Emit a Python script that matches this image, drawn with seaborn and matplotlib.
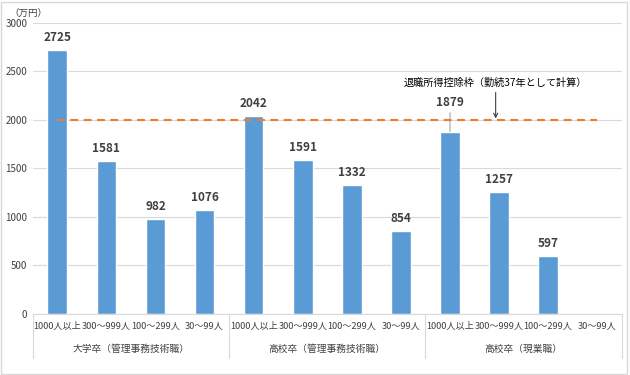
import numpy as np
import pandas as pd
import matplotlib
matplotlib.use("Agg")
import matplotlib.pyplot as plt
import seaborn as sns

sns.set_style("white")
plt.rcParams['font.family'] = ['Noto Sans CJK JP', 'DejaVu Sans']

groups = ["大学卒（管理事務技術職）", "高校卒（管理事務技術職）", "高校卒（現業職）"]
sizes = ["1000人以上", "300〜999人", "100〜299人", "30〜99人"]
values = [2725, 1581, 982, 1076,
          2042, 1591, 1332, 854,
          1879, 1257, 597, np.nan]
deduction = 2000
note = "退職所得控除枠（勤続37年として計算）"

keys = [f"{g}|{s}" for g in groups for s in sizes]
df = pd.DataFrame({"key": keys, "value": values})

fig = plt.figure(figsize=(6.3, 3.75), dpi=100)
ax = fig.add_axes([0.052, 0.163, 0.935, 0.776])

sns.barplot(data=df, x="key", y="value", order=keys, color="#5B9BD5",
            width=0.4, saturation=1, ax=ax, zorder=2)

ax.set_xlim(-0.5, len(keys) - 0.5)
ax.set_ylim(0, 3000)
ax.set_yticks(range(0, 3001, 500))
ax.yaxis.grid(True, color="#D9D9D9", linewidth=0.8, zorder=0)
ax.set_axisbelow(True)
for s in ["top", "right", "left"]:
    ax.spines[s].set_visible(False)
ax.spines["bottom"].set_color("#D9D9D9")
ax.tick_params(axis="y", labelsize=7, colors="#404040", length=0, pad=4)
ax.tick_params(axis="x", length=0, pad=6)
ax.set_xticks(range(len(keys)))
ax.set_xticklabels(sizes * len(groups), fontsize=6.6, color="#404040")
ax.set_xlabel("")
ax.set_ylabel("")

# value labels
for i, v in enumerate(values):
    if np.isnan(v):
        continue
    if i == 8:
        ax.annotate(f"{int(v)}", xy=(i, v), xytext=(0, 16), textcoords="offset points",
                    ha="center", va="bottom", fontsize=8.5, fontweight="bold", color="#404040",
                    arrowprops=dict(arrowstyle="-", color="#A6A6A6", lw=0.8,
                                    shrinkA=0, shrinkB=0))
    else:
        ax.annotate(f"{int(v)}", xy=(i, v), xytext=(0, 4), textcoords="offset points",
                    ha="center", va="bottom", fontsize=8.5, fontweight="bold", color="#404040")

# deduction line
ax.plot([0, len(keys) - 1], [deduction, deduction], color="#ED7D31", lw=1.5,
        ls=(0, (3.8, 2.6)), zorder=3)
ax.annotate(note, xy=(8.93, deduction), xytext=(8.93, deduction + 330),
            ha="center", va="bottom", fontsize=7.3, color="#000000",
            arrowprops=dict(arrowstyle="->", color="#404040", lw=0.8,
                            shrinkA=1, shrinkB=1))

# group labels and separators
trans = ax.get_xaxis_transform()
for k in range(len(groups) + 1):
    xb = k * len(sizes) - 0.5
    ax.plot([xb, xb], [0, -0.151], transform=trans, color="#D9D9D9", lw=0.8, clip_on=False)
for k, g in enumerate(groups):
    xc = k * len(sizes) + (len(sizes) - 1) / 2
    ax.text(xc, -0.121, g, transform=trans, ha="center", va="center",
            fontsize=7, color="#404040")

fig.text(0.015, 0.965, "（万円）", fontsize=6.8, color="#404040", ha="left", va="center")

# outer border
fig.patches.append(plt.Rectangle((0.002, 0.004), 0.994, 0.992, transform=fig.transFigure,
                                 fill=False, edgecolor="#D9D9D9", lw=1))

fig.savefig("out.png", dpi=100)
